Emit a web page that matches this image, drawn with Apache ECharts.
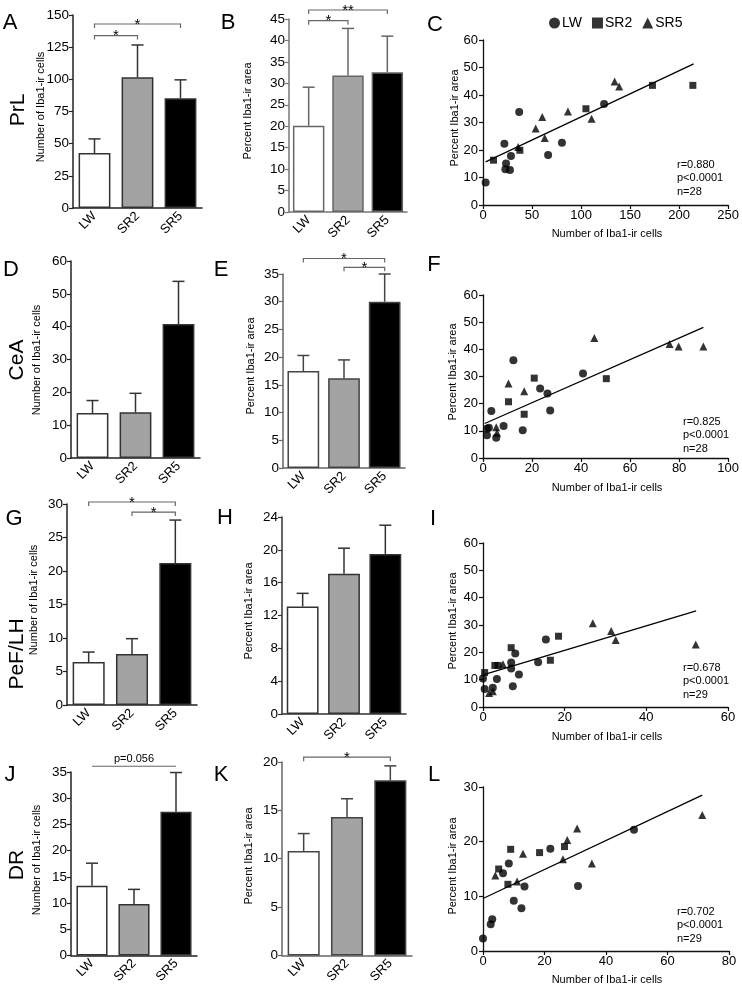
<!DOCTYPE html>
<html><head><meta charset="utf-8">
<script src="https://cdn.jsdelivr.net/npm/echarts@6/dist/echarts.min.js"></script>
<style>html,body{margin:0;padding:0;background:#fff}#c{width:742px;height:986px}</style>
</head><body><div id="c"></div>
<script>
const groups = ['LW', 'SR2', 'SR5'];

// ---- bar data: group means and SEM ----
const prlCountMean = [42.7, 101.6, 85.3];
const prlCountSem  = [11.0, 25.1, 14.3];
const prlAreaMean  = [20.1, 31.8, 32.6];
const prlAreaSem   = [9.0, 11.0, 8.4];
const ceaCountMean = [13.7, 13.9, 40.8];
const ceaCountSem  = [3.8, 5.8, 13.0];
const ceaAreaMean  = [17.5, 16.2, 30.0];
const ceaAreaSem   = [2.8, 3.3, 5.0];
const pefCountMean = [6.4, 7.6, 21.2];
const pefCountSem  = [1.5, 2.3, 6.4];
const pefAreaMean  = [13.1, 17.1, 19.5];
const pefAreaSem   = [1.6, 3.1, 3.5];
const drCountMean  = [13.3, 9.8, 27.4];
const drCountSem   = [4.3, 2.8, 7.5];
const drAreaMean   = [10.8, 14.3, 18.1];
const drAreaSem    = [1.8, 1.9, 1.5];

// ---- significance brackets: [from group, to group, level, label] ----
const prlCountSig = [[0, 1, 134, '*'], [0, 2, 143, '*']];
const prlAreaSig  = [[0, 1, 44.6, '*'], [0, 2, 47.1, '**']];
const ceaAreaSig  = [[0, 2, 37.8, '*'], [1, 2, 36.2, '*']];
const pefCountSig = [[0, 2, 30.3, '*'], [1, 2, 28.8, '*']];
const drCountSig  = [[0, 2, 36.1, 'p=0.056']];
const drAreaSig   = [[0, 2, 20.5, '*']];

// ---- scatter data: [Iba1-ir cell count, percent Iba1-ir area] ----
const prlLW  = [[2.7,8.2],[21.8,22.3],[36.9,33.8],[23.5,15.1],[22.8,13.0],[27.5,12.7],[28.5,17.8],[66.4,18.2],[80.5,22.6],[123.5,36.7]];
const prlSR2 = [[10.7,16.3],[37.6,19.9],[105,35],[172.8,43.5],[214,43.5]];
const prlSR5 = [[35.9,21.1],[53.7,27.8],[60.4,32],[63,24.4],[86.6,34],[110.7,31.4],[134.2,44.9],[138.9,43.1]];
const prlFit = [[2.7,15.7],[214.8,51.3]];

const ceaLW  = [[1.6,10.8],[2.4,11.1],[1.6,8.4],[3.4,17.3],[5.4,7.5],[8.4,11.8],[12.4,36.0],[16.2,10.2],[23.3,25.6],[26.3,23.7],[27.4,17.5],[40.8,31.1]];
const ceaSR2 = [[10.4,20.7],[16.8,16.1],[20.9,29.4],[50.3,29.2]];
const ceaSR5 = [[5.4,11.3],[5.7,9.3],[10.4,27.4],[16.8,24.6],[45.4,44.2],[76.1,42.0],[79.8,41.0],[89.9,41.0]];
const ceaFit = [[0.7,12.7],[89.9,48.1]];

const pefLW  = [[0,10.4],[0.4,6.6],[2.4,7.0],[3.4,10.2],[6.9,16.3],[6.9,14.1],[7.3,7.6],[7.9,19.6],[8.8,11.9],[13.5,16.4],[15.4,24.7]];
const pefSR2 = [[0.4,12.6],[2.9,15.2],[3.7,15.2],[6.9,21.7],[16.5,17.1],[18.5,25.9]];
const pefSR5 = [[1.5,5.1],[2.4,5.8],[4.9,15.6],[26.9,30.6],[31.4,27.8],[32.5,24.5],[52.1,22.9]];
const pefFit = [[0.4,11.9],[52.2,35.2]];

const drLW  = [[0,2.3],[2.5,4.9],[3.0,5.8],[6.5,14.2],[8.4,16.0],[10.0,9.2],[12.5,7.8],[13.5,11.8],[21.9,18.7],[30.9,11.9],[49.1,22.2]];
const drSR2 = [[5.1,15.0],[8.1,12.2],[9.0,18.6],[18.4,18.0],[26.5,19.1]];
const drSR5 = [[4.0,13.8],[11.1,12.7],[13.0,17.8],[26.0,16.8],[27.4,20.3],[30.6,22.4],[35.4,16.0],[71.3,24.9]];
const drFit = [[0,9.6],[71.3,28.5]];

// ---- stats text ----
const prlStats = ['r=0.880', 'p<0.0001', 'n=28'];
const ceaStats = ['r=0.825', 'p<0.0001', 'n=28'];
const pefStats = ['r=0.678', 'p<0.0001', 'n=29'];
const drStats  = ['r=0.702', 'p<0.0001', 'n=29'];

const countTitle = 'Number of Iba1-ir cells';
const areaTitle = 'Percent Iba1-ir area';

// ================= layout / styles =================
const FONT = '"Liberation Sans", Arial, sans-serif';
const fills = ['#ffffff', '#a3a3a3', '#000000'];

const option = {
  animation: false,
  backgroundColor: '#ffffff',
  grid: [], xAxis: [], yAxis: [], series: [], graphic: [],
  legend: {
    left: 549, top: 16, padding: 0, itemWidth: 11, itemHeight: 11, itemGap: 10,
    selectedMode: false,
    textStyle: { fontSize: 14, fontFamily: FONT, color: '#000', padding: [0, 0, 0, -3] },
    data: [{ name: 'LW', icon: 'circle' }, { name: 'SR2', icon: 'rect' }, { name: 'SR5', icon: 'triangle' }]
  }
};

function errRender(color) {
  return function (params, api) {
    const p0 = api.coord([api.value(0), api.value(1)]);
    const p1 = api.coord([api.value(0), api.value(2)]);
    const w = 6;
    return { type: 'group', children: [
      { type: 'line', shape: { x1: p0[0], y1: p0[1], x2: p1[0], y2: p1[1] }, style: { stroke: color, lineWidth: 1.5 } },
      { type: 'line', shape: { x1: p1[0] - w, y1: p1[1], x2: p1[0] + w, y2: p1[1] }, style: { stroke: color, lineWidth: 1.5 } }
    ] };
  };
}

function sigRender(sig, drop, color) {
  return function (params, api) {
    const s = sig[params.dataIndex];
    const a = api.coord([s[0], s[2]]);
    const b = api.coord([s[1], s[2]]);
    const isStar = s[3].indexOf('*') === 0;
    return { type: 'group', children: [
      { type: 'polyline', shape: { points: [[a[0], a[1] + drop], [a[0], a[1]], [b[0], b[1]], [b[0], b[1] + drop]] },
        style: { stroke: color, lineWidth: 1.2, fill: null } },
      { type: 'text', style: { text: s[3], x: (a[0] + b[0]) / 2, y: a[1] + (isStar ? 8 : -2),
        align: 'center', verticalAlign: 'bottom', font: (isStar ? '15px ' : '11px ') + FONT, fill: '#000' } }
    ] };
  };
}

function addBar(p) {
  const gi = option.grid.length;
  option.grid.push({ left: p.left, top: p.top, width: p.width, height: p.height });
  option.xAxis.push({ type: 'category', gridIndex: gi, data: groups, axisTick: { show: false },
    axisLine: { lineStyle: { color: p.axis, width: 1.5 } },
    axisLabel: { rotate: 45, fontSize: 13, color: '#000', fontFamily: FONT, margin: 6 } });
  option.yAxis.push({ type: 'value', gridIndex: gi, min: 0, max: p.max, interval: p.interval,
    splitLine: { show: false },
    axisLine: { show: true, lineStyle: { color: p.axis, width: 1.5 } },
    axisTick: { show: true, length: 4, lineStyle: { color: p.axis, width: 1.2 } },
    axisLabel: { fontSize: 13.5, color: '#000', fontFamily: FONT, margin: 4 } });
  option.series.push({ type: 'bar', xAxisIndex: gi, yAxisIndex: gi, barWidth: p.barWidth, z: 2,
    data: p.mean.map((v, i) => ({ value: v, itemStyle: { color: fills[i], borderColor: p.border, borderWidth: 1.5 } })) });
  option.series.push({ type: 'custom', xAxisIndex: gi, yAxisIndex: gi, z: 3, encode: { x: 0, y: [1, 2] },
    data: p.mean.map((v, i) => [i, v, v + p.sem[i]]), renderItem: errRender(p.err) });
  if (p.sig) {
    option.series.push({ type: 'custom', xAxisIndex: gi, yAxisIndex: gi, z: 4, clip: false, encode: { x: 0, y: 1 },
      data: p.sig.map(s => [s[0], s[2]]), renderItem: sigRender(p.sig, p.drop, '#666') });
  }
}

function addScatter(p) {
  const gi = option.grid.length;
  option.grid.push({ left: p.left, top: p.top, width: p.width, height: p.height });
  const axisCommon = {
    gridIndex: gi, type: 'value', min: 0, splitLine: { show: false },
    axisLine: { show: true, onZero: false, lineStyle: { color: '#111', width: 1.3 } },
    axisTick: { show: true, length: 4, lineStyle: { color: '#111', width: 1.2 } }
  };
  option.xAxis.push(Object.assign({}, axisCommon, { max: p.xmax, interval: p.xint,
    axisLabel: { fontSize: 13, color: '#000', fontFamily: FONT, margin: 4 } }));
  option.yAxis.push(Object.assign({}, axisCommon, { max: p.ymax, interval: p.yint,
    axisLabel: { fontSize: 13, color: '#000', fontFamily: FONT, margin: 5 } }));
  const common = { xAxisIndex: gi, yAxisIndex: gi, itemStyle: { color: '#000' }, z: 3 };
  option.series.push(Object.assign({ type: 'scatter', name: 'LW', symbol: 'circle', symbolSize: 8, data: p.lw }, common));
  option.series.push(Object.assign({ type: 'scatter', name: 'SR2', symbol: 'rect', symbolSize: 7, data: p.sr2 }, common));
  option.series.push(Object.assign({ type: 'scatter', name: 'SR5', symbol: 'triangle', symbolSize: 8, data: p.sr5 }, common));
  option.series.push({ type: 'line', xAxisIndex: gi, yAxisIndex: gi, data: p.fit, showSymbol: false, symbol: 'none',
    lineStyle: { color: '#000', width: 1.3 }, z: 2, silent: true });
}

function text(t, x, y, size, opts) {
  opts = opts || {};
  option.graphic.push({ type: 'text', x: x, y: y, rotation: opts.rot || 0, silent: true,
    style: { text: t, x: 0, y: 0, font: (opts.weight || 'normal') + ' ' + size + 'px ' + FONT, fill: '#000',
      align: opts.align || 'center', verticalAlign: 'middle', textAlign: opts.align || 'center', textVerticalAlign: 'middle' } });
}

// ---- bar panels ----
addBar({ mean: prlCountMean, sem: prlCountSem, sig: prlCountSig, drop: 4, max: 150, interval: 25,
  left: 73, top: 15, width: 129, height: 193, barWidth: '74%', axis: '#222', border: '#333', err: '#333' });
addBar({ mean: prlAreaMean, sem: prlAreaSem, sig: prlAreaSig, drop: 4, max: 45, interval: 5,
  left: 289, top: 19, width: 118, height: 193, barWidth: '80%', axis: '#777', border: '#666', err: '#666' });
addBar({ mean: ceaCountMean, sem: ceaCountSem, max: 60, interval: 10,
  left: 71, top: 261, width: 129, height: 197, barWidth: '74%', axis: '#222', border: '#333', err: '#333' });
addBar({ mean: ceaAreaMean, sem: ceaAreaSem, sig: ceaAreaSig, drop: 4, max: 35, interval: 5,
  left: 283, top: 274, width: 122, height: 194, barWidth: '78%', axis: '#666', border: '#444', err: '#444' });
addBar({ mean: pefCountMean, sem: pefCountSem, sig: pefCountSig, drop: 4, max: 30, interval: 5,
  left: 67, top: 504, width: 130, height: 201, barWidth: '74%', axis: '#222', border: '#333', err: '#333' });
addBar({ mean: pefAreaMean, sem: pefAreaSem, max: 24, interval: 4,
  left: 282, top: 517, width: 124, height: 197, barWidth: '77%', axis: '#333', border: '#333', err: '#333' });
addBar({ mean: drCountMean, sem: drCountSem, sig: drCountSig, drop: 0, max: 35, interval: 5,
  left: 71, top: 772, width: 126, height: 185, barWidth: '74%', axis: '#222', border: '#333', err: '#333' });
addBar({ mean: drAreaMean, sem: drAreaSem, sig: drAreaSig, drop: 4, max: 20, interval: 5,
  left: 282, top: 762, width: 130, height: 196, barWidth: '74%', axis: '#666', border: '#444', err: '#444' });

// ---- scatter panels ----
addScatter({ lw: prlLW, sr2: prlSR2, sr5: prlSR5, fit: prlFit, xmax: 250, xint: 50, ymax: 60, yint: 10,
  left: 483, top: 40, width: 249, height: 165 });
addScatter({ lw: ceaLW, sr2: ceaSR2, sr5: ceaSR5, fit: ceaFit, xmax: 100, xint: 20, ymax: 60, yint: 10,
  left: 483, top: 295, width: 248, height: 163 });
addScatter({ lw: pefLW, sr2: pefSR2, sr5: pefSR5, fit: pefFit, xmax: 60, xint: 20, ymax: 60, yint: 10,
  left: 483, top: 543, width: 245, height: 164 });
addScatter({ lw: drLW, sr2: drSR2, sr5: drSR5, fit: drFit, xmax: 80, xint: 20, ymax: 30, yint: 10,
  left: 483, top: 787, width: 246, height: 164 });

// ---- panel letters ----
[['A', 10, 23], ['B', 228, 23], ['C', 435, 25], ['D', 11, 270], ['E', 221, 270], ['F', 434, 265],
 ['G', 14, 519], ['H', 225, 518], ['I', 433, 519], ['J', 10, 775], ['K', 221, 775], ['L', 434, 775]]
  .forEach(l => text(l[0], l[1], l[2], 22));

// ---- row labels ----
[['PrL', 18, 110], ['CeA', 17, 360], ['PeF/LH', 17, 654], ['DR', 17, 865]]
  .forEach(l => text(l[0], l[1], l[2], 21, { rot: Math.PI / 2 }));

// ---- axis titles ----
[[countTitle, 41, 107], [countTitle, 37, 360], [countTitle, 34, 600], [countTitle, 37, 860],
 [areaTitle, 248, 111], [areaTitle, 251, 366], [areaTitle, 249, 611], [areaTitle, 249, 856],
 [areaTitle, 455, 118], [areaTitle, 453, 372], [areaTitle, 453, 621], [areaTitle, 453, 866]]
  .forEach(l => text(l[0], l[1], l[2], 11, { rot: Math.PI / 2 }));
[[countTitle, 607, 234], [countTitle, 607, 488], [countTitle, 607, 737], [countTitle, 607, 980]]
  .forEach(l => text(l[0], l[1], l[2], 11));

// ---- stats ----
[[prlStats, 677, 165], [ceaStats, 683, 422], [pefStats, 683, 668], [drStats, 677, 912]]
  .forEach(s => s[0].forEach((t, i) => text(t, s[1], s[2] + i * 13.3, 11, { align: 'left' })));

const chart = echarts.init(document.getElementById('c'), null, { renderer: 'canvas' });
chart.setOption(option);
</script></body></html>
